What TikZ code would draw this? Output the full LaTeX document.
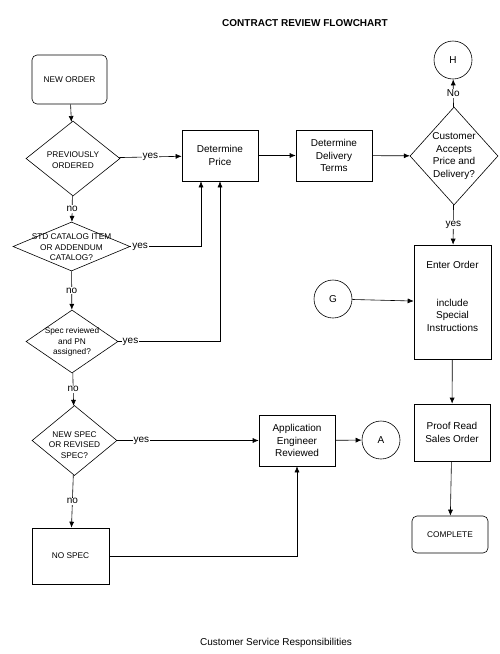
\documentclass[tikz,border=0pt]{standalone}
\usepackage{fontspec}
\setmainfont{Liberation Sans}
\usetikzlibrary{shapes.geometric,arrows.meta}
\begin{document}
\begin{tikzpicture}[x=1pt,y=-1pt,>={Latex[length=6pt,width=5pt]},line width=0.6pt,
  font=\fontsize{10}{12.7}\selectfont,
  box/.style={draw,align=center,inner sep=0pt},
  rbox/.style={box,rounded corners=5pt},
  dia/.style={draw,diamond,inner sep=0pt},
  conn/.style={draw,circle,minimum size=38pt,inner sep=0pt},
  caps/.style={align=center,font=\fontsize{8.3}{10.5}\selectfont},
  lbl/.style={fill=white,inner sep=1pt}]
\useasboundingbox (0,0) rectangle (500,654);
\node[font=\bfseries\fontsize{10}{12}\selectfont](title) at (305,23) {CONTRACT REVIEW FLOWCHART};
% left column
\node[rbox,caps,minimum width=75pt,minimum height=49pt](new) at (69.5,79.5) {NEW ORDER};
\node[dia,minimum width=94pt,minimum height=75pt](prev) at (73,158.5) {};
\node[caps](prev-t) at (73,160) {PREVIOUSLY\\ORDERED};
\node[dia,minimum width=117pt,minimum height=49pt](std) at (71.5,246.5) {};
\node[caps](std-t) at (71.5,247.5) {STD CATALOG ITEM\\OR ADDENDUM\\CATALOG?};
\node[dia,minimum width=92pt,minimum height=63pt](spec) at (72,341.5) {};
\node[caps](spec-t) at (72,342) {Spec reviewed\\and PN\\assigned?};
\node[dia,minimum width=85pt,minimum height=70pt](nspec) at (74.5,440.5) {};
\node[caps](nspec-t) at (74.5,445) {NEW SPEC\\OR REVISED\\SPEC?};
\node[box,caps,minimum width=77pt,minimum height=56pt](nospec) at (70.5,556) {NO SPEC};
% middle
\node[box,minimum width=76pt,minimum height=51pt](price) at (220,155.5) {Determine\\Price};
\node[box,minimum width=76pt,minimum height=51pt](deliv) at (334,155.5) {Determine\\Delivery\\Terms};
\node[box,minimum width=76pt,minimum height=51pt](app) at (297,440.5) {Application\\Engineer\\Reviewed};
\node[conn](a) at (381,440) {A};
\node[conn](g) at (333,299) {G};
% right column
\node[dia,minimum width=88pt,minimum height=98pt](acc) at (454,156) {};
\node[align=center](acc-t) at (454,156) {Customer\\Accepts\\Price and\\Delivery?};
\node[conn](h) at (453,60) {H};
\node[box,minimum width=77pt,minimum height=114pt](enter) at (452.5,302) {};
\node[align=center](enter-t) at (452.5,296.5) {Enter Order\\[25pt]include\\Special\\Instructions};
\node[box,minimum width=76pt,minimum height=57pt](proof) at (452,432.5) {Proof Read\\Sales Order};
\node[rbox,caps,minimum width=76pt,minimum height=37pt](done) at (450,534.5) {COMPLETE};
\node(foot) at (276,643) {Customer Service Responsibilities};
% connectors
\draw[->](new)--(prev);
\draw[->](prev)--node[lbl](y1){yes}(price);
\draw[->](prev)--node[lbl](n1){no}(std);
\draw[->](std.east)-|node[lbl,pos=0.07](y2){yes}([xshift=-19pt]price.south);
\draw[->](std)--node[lbl](n2){no}(spec);
\draw[->](spec.east)-|node[lbl,pos=0.06](y3){yes}(price.south);
\draw[->](spec)--node[lbl](n3){no}(nspec);
\draw[->](nspec)--node[lbl,pos=0.17](y4){yes}(app);
\draw[->](nspec)--node[lbl](n4){no}(nospec);
\draw[->](nospec.east)-|(app.south);
\draw[->](price)--(deliv);
\draw[->](deliv)--(acc);
\draw[->](acc)--node[lbl](n5){No}(h);
\draw[->](acc)--node[lbl](y5){yes}(enter);
\draw[->](g)--(enter);
\draw[->](enter)--(proof);
\draw[->](proof)--(done);
\draw[->](app)--(a);
\end{tikzpicture}
\end{document}
